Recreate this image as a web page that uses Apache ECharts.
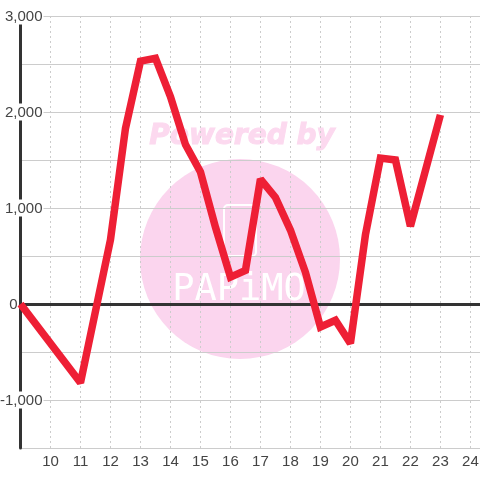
<!DOCTYPE html>
<html>
<head>
<meta charset="utf-8">
<style>
  html, body { margin: 0; padding: 0; background: #fff; }
  #chart { width: 480px; height: 480px; }
</style>
<script src="https://cdn.jsdelivr.net/npm/echarts@6/dist/echarts.min.js"></script>
</head>
<body>
<div id="chart"></div>
<script>
// x values are half steps from 9 to 23
const hours = [9, 11, 12, 12.5, 13, 13.5, 14, 14.5, 15, 15.5, 16, 16.5, 17, 17.5, 18, 18.5, 19, 19.5, 20, 20.5, 21, 21.5, 22, 23];
const values = [0, -820, 670, 1830, 2530, 2560, 2160, 1660, 1375, 800, 280, 350, 1300, 1110, 770, 330, -240, -170, -410, 720, 1520, 1500, 810, 1970];

const chart = echarts.init(document.getElementById('chart'), null, { renderer: 'canvas' });

const axisColor = '#333333';
const gridColor = '#cccccc';
const labelColor = '#444444';
const fontName = '"Liberation Sans", Arial, sans-serif';

function yLabel(v) {
  if (v === 0) return '{plain|0}{gap|}';
  if (v % 1000 !== 0) return '';
  return '{bg|' + v.toLocaleString('en-US') + '}';
}

const option = {
  animation: false,
  backgroundColor: '#ffffff',
  grid: { left: 20.5, right: 0, top: 16, bottom: 32, outerBoundsMode: 'none' },
  graphic: [
    { type: 'circle', z: -1, silent: true, shape: { cx: 240, cy: 259, r: 100 }, style: { fill: '#fbd5ee' } },
    { type: 'rect', z: -1, silent: true, shape: { x: 224, y: 205, width: 32, height: 51, r: 4 }, style: { fill: 'none', stroke: '#ffffff', lineWidth: 2 } },
    {
      type: 'text', z: -1, silent: true, x: 242, y: 137,
      style: { text: 'Powered by', font: 'italic bold 28px "DejaVu Sans"', fill: '#fcd9ef', stroke: '#fcd9ef', lineWidth: 1, align: 'center', verticalAlign: 'middle' }
    },
    {
      type: 'text', z: -1, silent: true, x: 239, y: 290,
      style: { text: 'PAPiMO', font: '37px "DejaVu Sans Mono"', fill: '#ffffff', align: 'center', verticalAlign: 'middle' }
    }
  ],
  xAxis: [
    {
      type: 'value',
      min: 9,
      max: 24.32,
      interval: 1,
      axisLine: { show: false, onZero: false },
      axisTick: { show: false },
      axisLabel: { color: labelColor, fontSize: 15, fontFamily: fontName, margin: 6, showMinLabel: false, showMaxLabel: false },
      splitLine: { show: true, showMinLine: false, showMaxLine: false, lineStyle: { color: gridColor, type: [2, 3], width: 1 } }
    },
    {
      // heavy zero line, only the line of this axis is drawn
      type: 'value',
      min: 9,
      max: 24.32,
      position: 'bottom',
      axisLine: { show: true, onZero: true, lineStyle: { color: axisColor, width: 3 } },
      axisTick: { show: false },
      axisLabel: { show: false },
      splitLine: { show: false }
    }
  ],
  yAxis: {
    type: 'value',
    min: -1500,
    max: 3000,
    interval: 500,
    axisLine: { show: true, onZero: false, lineStyle: { color: axisColor, width: 3 } },
    axisTick: { show: false },
    axisLabel: {
      color: labelColor,
      fontSize: 15,
      fontFamily: fontName,
      margin: -23,
      align: 'right',
      formatter: yLabel,
      rich: {
        bg: { backgroundColor: '#ffffff', color: labelColor, fontSize: 15, fontFamily: fontName, padding: [2, 1, 0, 0] },
        plain: { color: labelColor, fontSize: 15, fontFamily: fontName, padding: [2, 0, 0, 0] },
        gap: { width: 26 }
      }
    },
    splitLine: { show: true, lineStyle: { color: gridColor, width: 1 } }
  },
  series: [
    {
      type: 'line',
      xAxisIndex: 0,
      data: hours.map((h, i) => [h, values[i]]),
      showSymbol: false,
      clip: false,
      lineStyle: { color: '#ee1f35', width: 7.5, join: 'miter', cap: 'butt', miterLimit: 2 },
      z: 5
    }
  ]
};

chart.setOption(option);
</script>
</body>
</html>
